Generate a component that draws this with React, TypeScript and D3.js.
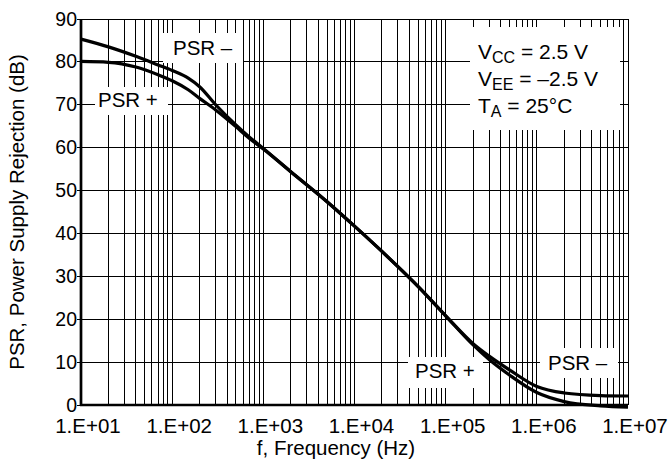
import React from "react";
import * as d3 from "d3";

// frequency (Hz) and rejection (dB)
const freqs = [10, 20, 40, 70, 100, 150, 200, 300, 500, 700, 1e3, 2e3, 5e3, 1e4, 2e4, 5e4, 1e5, 2e5, 3e5, 5e5, 1e6, 2e6, 5e6, 1e7];
const psrMinus = [85.3, 83.5, 81.3, 79.3, 78.0, 76.2, 74.2, 70.0, 65.3, 62.5, 59.8, 54.4, 47.4, 41.7, 35.8, 27.6, 20.8, 14.3, 11.4, 8.2, 4.3, 2.8, 2.2, 2.1];
const psrPlus = [80.1, 79.9, 78.8, 77.0, 75.6, 73.5, 71.5, 68.8, 64.9, 62.2, 59.7, 54.4, 47.4, 41.7, 35.8, 27.6, 20.8, 14.0, 10.6, 7.0, 2.9, 0.8, -0.2, -0.5];

const yTicks = [0, 10, 20, 30, 40, 50, 60, 70, 80, 90];
const decades = [1e1, 1e2, 1e3, 1e4, 1e5, 1e6, 1e7];
const xTickLabels = ["1.E+01", "1.E+02", "1.E+03", "1.E+04", "1.E+05", "1.E+06", "1.E+07"];

const W = 672;
const H = 474;
const FONT = "'Liberation Sans', Arial, Helvetica, sans-serif";

export default function App() {
    const x = d3.scaleLog().domain([10, 1e7]).range([81, 628]);
    const y = d3.scaleLinear().domain([0, 90]).range([405, 19]);

    const minor: number[] = [];
    decades.slice(0, -1).forEach((d) => {
        for (let k = 2; k <= 9; k++) minor.push(d * k);
    });

    const line = d3
        .line<[number, number]>()
        .x((d) => x(d[0]))
        .y((d) => y(d[1]))
        .curve(d3.curveMonotoneX);

    const minusPts = freqs.map((f, i) => [f, psrMinus[i]] as [number, number]);
    const plusPts = freqs.map((f, i) => [f, psrPlus[i]] as [number, number]);

    const fs = 20.5;

    return (
        <svg
            width={W}
            height={H}
            style={{ position: "absolute", left: 0, top: 0, background: "#fff" }}
            fontFamily={FONT}
        >
            {/* vertical grid */}
            {minor.concat(decades).map((f) => (
                <line
                    key={"v" + f}
                    x1={x(f)}
                    x2={x(f)}
                    y1={y(90)}
                    y2={y(0)}
                    stroke="#000"
                    strokeWidth={1}
                    shapeRendering="crispEdges"
                />
            ))}
            {/* horizontal grid */}
            {yTicks.map((t) => (
                <line
                    key={"h" + t}
                    x1={x(10) - 4}
                    x2={x(1e7)}
                    y1={y(t)}
                    y2={y(t)}
                    stroke="#000"
                    strokeWidth={1}
                    shapeRendering="crispEdges"
                />
            ))}

            {/* label boxes */}
            <rect x={163} y={33} width={80} height={30} fill="#fff" />
            <rect x={95} y={87} width={73} height={28} fill="#fff" />
            <rect x={470} y={27} width={150} height={103} fill="#fff" />
            <rect x={408} y={357} width={75} height={31} fill="#fff" />
            <rect x={540} y={348} width={78} height={30} fill="#fff" />

            {/* axes */}
            <line x1={x(10)} x2={x(10)} y1={y(90)} y2={y(0) + 1} stroke="#000" strokeWidth={2.7} />
            <line x1={x(10) - 1} x2={x(1e7)} y1={y(0)} y2={y(0)} stroke="#000" strokeWidth={2.7} />

            {/* curves */}
            <path d={line(minusPts) ?? ""} fill="none" stroke="#000" strokeWidth={3.2} />
            <path d={line(plusPts) ?? ""} fill="none" stroke="#000" strokeWidth={3.2} />

            {/* y tick labels */}
            {yTicks.map((t) => (
                <text key={"yt" + t} x={x(10) - 4} y={y(t) + 6.5} textAnchor="end" fontSize={19.5} fill="#000">
                    {t}
                </text>
            ))}
            {/* x tick labels */}
            {decades.map((f, i) => (
                <text key={"xt" + f} x={x(f) + 7} y={432.5} textAnchor="middle" fontSize={fs} fill="#000">
                    {xTickLabels[i]}
                </text>
            ))}

            {/* axis titles */}
            <text x={336} y={455} textAnchor="middle" fontSize={fs} fill="#000">
                f, Frequency (Hz)
            </text>
            <text
                transform={`translate(24, ${(y(0) + y(90)) / 2}) rotate(-90)`}
                textAnchor="middle"
                fontSize={fs}
                fill="#000"
            >
                PSR, Power Supply Rejection (dB)
            </text>

            {/* curve labels */}
            <text x={173} y={55} fontSize={fs} fill="#000">PSR –</text>
            <text x={98} y={106.5} fontSize={fs} fill="#000">PSR +</text>
            <text x={415} y={378} fontSize={fs} fill="#000">PSR +</text>
            <text x={548} y={370} fontSize={fs} fill="#000">PSR –</text>

            {/* conditions */}
            <text x={478} y={59} fontSize={21} fill="#000">
                V<tspan dy={4} fontSize={16}>CC</tspan>
                <tspan dy={-4}> = 2.5 V</tspan>
            </text>
            <text x={478} y={86} fontSize={21} fill="#000">
                V<tspan dy={4} fontSize={16}>EE</tspan>
                <tspan dy={-4}> = –2.5 V</tspan>
            </text>
            <text x={478} y={113} fontSize={21} fill="#000">
                T<tspan dy={4} fontSize={16}>A</tspan>
                <tspan dy={-4}> = 25°C</tspan>
            </text>
        </svg>
    );
}
